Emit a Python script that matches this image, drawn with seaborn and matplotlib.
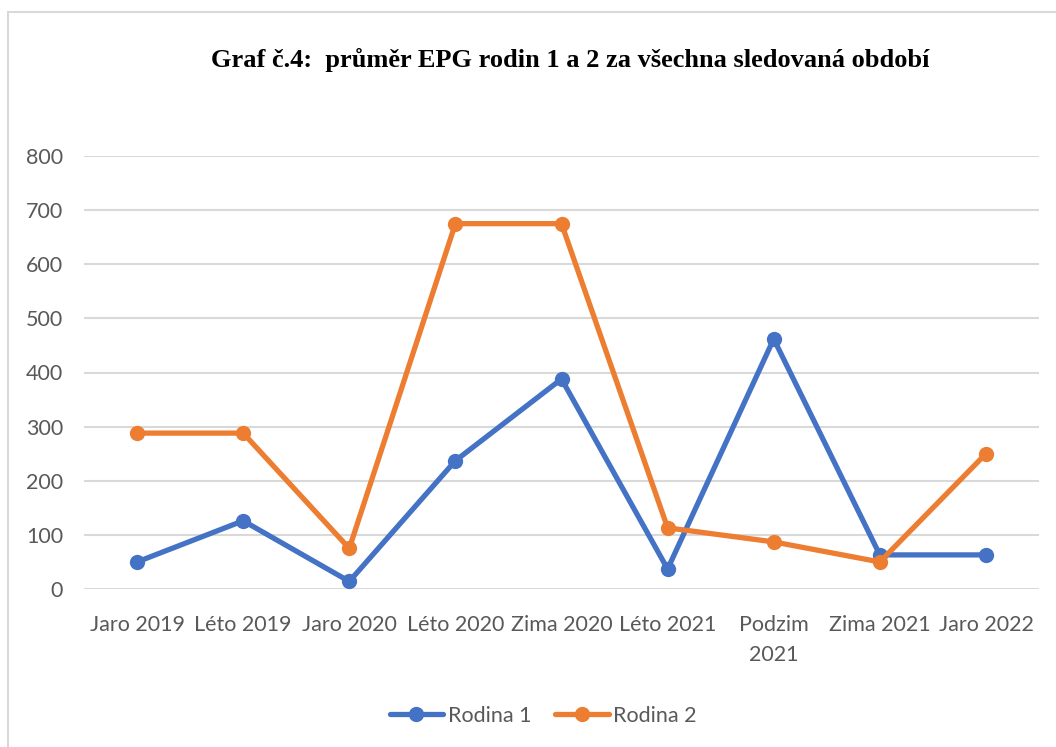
import matplotlib
matplotlib.use("Agg")
import matplotlib.pyplot as plt
import seaborn as sns
import pandas as pd
from matplotlib.patches import Rectangle

categories = ["Jaro 2019", "Léto 2019", "Jaro 2020", "Léto 2020", "Zima 2020",
              "Léto 2021", "Podzim\n2021", "Zima 2021", "Jaro 2022"]
rodina1 = [50, 126, 14, 237, 388, 37, 462, 63, 63]
rodina2 = [288, 288, 75, 675, 675, 113, 87, 50, 250]
series_names = ["Rodina 1", "Rodina 2"]
yticks = [0, 100, 200, 300, 400, 500, 600, 700, 800]
title = "Graf č.4:  průměr EPG rodin 1 a 2 za všechna sledovaná období"

sns.set_theme(style="white")
plt.rcParams['font.family'] = ['Lato', 'DejaVu Sans']

df = pd.DataFrame({
    "cat": categories * 2,
    "val": rodina1 + rodina2,
    "series": [series_names[0]] * len(categories) + [series_names[1]] * len(categories),
})

W, H = 1056, 747
fig = plt.figure(figsize=(W / 100, H / 100), dpi=100)
ax = fig.add_axes([84 / W, 1 - 589 / H, (1039 - 84) / W, (589 - 156) / H])

fig.patches.append(Rectangle((8 / W, -0.2), 1.2, 1.2 - 12 / H, transform=fig.transFigure,
                             fill=False, edgecolor="#D9D9D9", linewidth=1.5, zorder=0))

palette = {"Rodina 1": "#4472C4", "Rodina 2": "#ED7D31"}
sns.lineplot(data=df, x="cat", y="val", hue="series", palette=palette, sort=False,
             marker="o", markersize=11, markeredgewidth=0, linewidth=3.8, ax=ax,
             legend=True)
for line in ax.lines:
    line.set_clip_on(False)

ax.set_xlim(-0.5, len(categories) - 0.5)
ax.set_ylim(0, 800)
ax.set_yticks(yticks)
ax.set_yticklabels([str(v) for v in yticks])
ax.yaxis.grid(True, color="#D9D9D9", linewidth=1.5)
ax.set_axisbelow(True)
for s in ax.spines.values():
    s.set_visible(False)
ax.tick_params(axis="both", length=0, labelsize=15.5, labelcolor="#595959")
ax.tick_params(axis="y", pad=15)
ax.tick_params(axis="x", pad=19)
for lbl in ax.get_xticklabels():
    lbl.set_linespacing(1.6)
ax.set_xlabel("")
ax.set_ylabel("")

fig.text(570 / W, 1 - 60 / H, title, ha="center", va="center",
         fontsize=19, fontweight="bold", family=["Liberation Serif", "DejaVu Serif"],
         color="black")

handles, labels = ax.get_legend_handles_labels()
ax.legend(handles, labels, loc="center", bbox_to_anchor=(543 / W, 1 - 716 / H),
          bbox_transform=fig.transFigure, ncol=2, frameon=False, fontsize=15.5,
          labelcolor="#595959", handlelength=2.5, handletextpad=0.2, columnspacing=1.1)

fig.savefig("out.png", dpi=100)
